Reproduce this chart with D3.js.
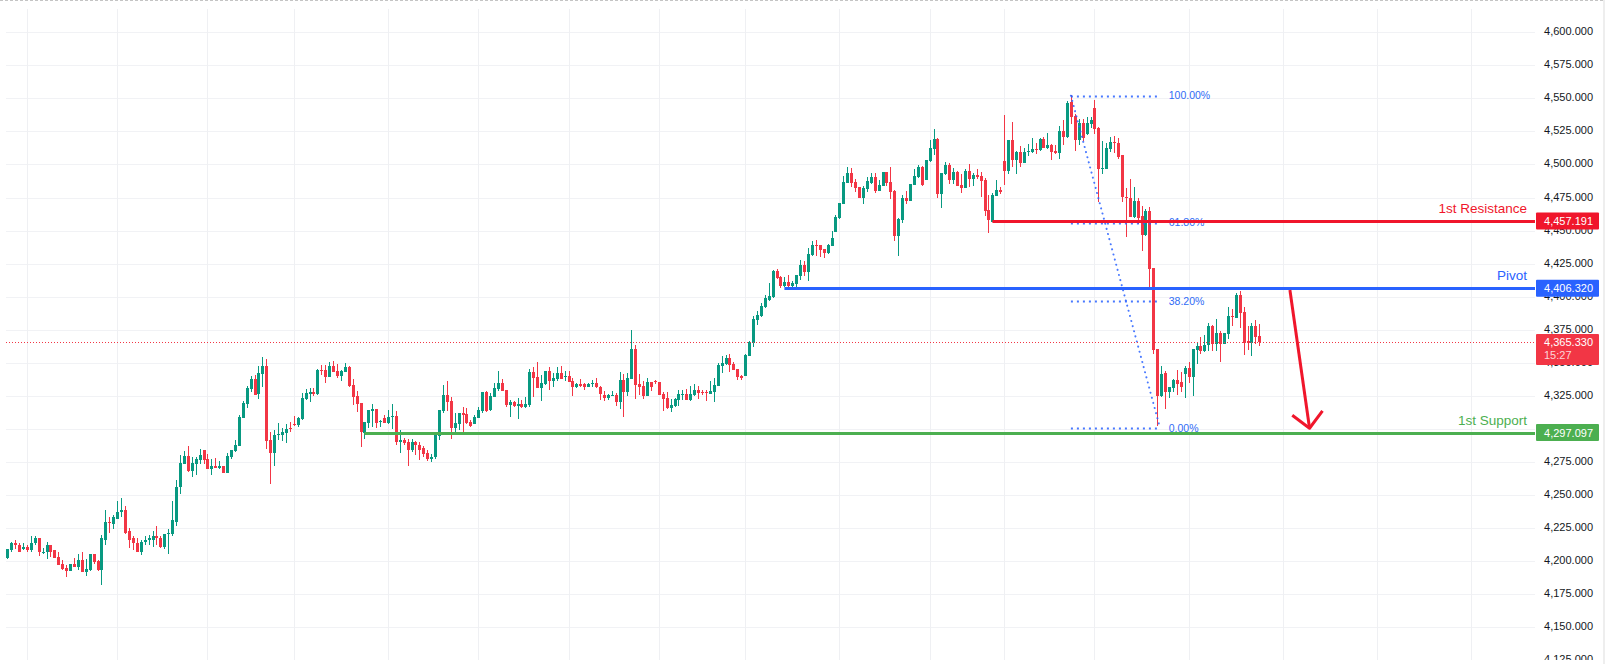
<!DOCTYPE html>
<html>
<head>
<meta charset="utf-8">
<script src="https://cdn.jsdelivr.net/npm/d3@7"></script>
<style>
  html, body { margin: 0; padding: 0; background: #fff; overflow: hidden; }
  svg { display: block; }
  text { font-family: "Liberation Sans", Arial, sans-serif; }
</style>
</head>
<body>
<div id="chart"></div>
<script>
var opens = [
  4202.6,4208.6,4213.2,4212.4,4209.4,4210.9,4207.9,4213.2,4217,4206.4,
  4206.4,4211.7,4207.9,4203.3,4198,4195,4192.7,4198,4195.7,4201,
  4192,4193.5,4205.6,4200.3,4193.5,4216.2,4229.8,4227.6,4232.1,4236.7,
  4238.9,4222.3,4217,4213.9,4207.1,4214.7,4216.2,4216.2,4218.5,4217.7,
  4210.9,4220.7,4220.7,4229.8,4255.6,4273,4279.1,4267.7,4273,4276,
  4283.6,4276.8,4269.2,4271.5,4270.7,4271.5,4266.2,4278.3,4282.9,4286.6,
  4307.9,4318.5,4329.8,4337.4,4326,4341.2,4347.2,4291.2,4281.3,4295,
  4295,4296.5,4300.3,4303.3,4302.6,4307.1,4322.2,4326,4327.5,4326,
  4344.2,4344.2,4338.9,4347.2,4343.4,4339.6,4342.7,4346.5,4332.8,4324.5,
  4319.2,4296.5,4304,4313.1,4314.6,4304.8,4307.8,4304,4308.6,4309.3,
  4289.7,4291.2,4289.7,4283.6,4289.7,4288.1,4285.1,4281.3,4276.8,4278.3,
  4294.2,4313.1,4325.3,4320.7,4300.3,4303.3,4311.6,4310.9,4304.8,4303.3,
  4307.8,4313.1,4327.5,4313.9,4323.7,4329.8,4334.3,4329,4317.7,4320,
  4316.9,4318.4,4316.2,4317.7,4342.7,4338.9,4330.6,4333.6,4343.4,4335.9,
  4337.4,4341.9,4338.9,4339.6,4335.9,4331.3,4333.6,4333.6,4331.3,4333.6,
  4334.3,4331.3,4325.3,4323,4324.5,4325.3,4320,4336.7,4327.5,4337.4,
  4360.2,4333.6,4332.1,4324.5,4335.1,4335.9,4335.1,4326.1,4323,4315.5,
  4316.9,4321.5,4325.3,4326.1,4321.5,4325.3,4329.1,4327.5,4327.5,4326.1,
  4327.5,4332.1,4347.2,4348.8,4353.3,4348.8,4345,4339.7,4339.7,4354.8,
  4364.7,4382.1,4385.2,4392,4397.3,4399.5,4419.2,4414.7,4407.9,4410.9,
  4407.9,4409.4,4415.4,4423.8,4418.5,4431.4,4438.9,4438.9,4435.9,4432.9,
  4438.2,4448.8,4459.4,4470,4485.9,4493.5,4486.7,4482.9,4474.5,4481.3,
  4485.9,4490.4,4479.8,4483.6,4494.2,4486.6,4479.8,4445.7,4457.8,4474.5,
  4472.2,4484.4,4490.4,4498,4488.1,4502.5,4511.6,4519.2,4477.5,4492.7,
  4499.5,4488.1,4494.2,4484.4,4482.1,4495,4488.9,4491.9,4491.2,4488.1,
  4465.4,4456.3,4476,4480.6,4502.5,4495,4518.4,4503.3,4509.4,4501,
  4509.4,4509.4,4511.6,4510.9,4519.2,4512.4,4514.7,4510.1,4508.6,4525.3,
  4520.7,4547.2,4536.6,4518.4,4531.3,4523,4530.6,4542.7,4527.5,4496.5,
  4496.5,4511.6,4516.9,4516.2,4507.1,4475.4,4475,4460.1,4472,4460.9,
  4446.5,4464.7,4421.5,4360.2,4324.6,4342,4327.6,4330.6,4336.7,4335.2,
  4341.2,4345.8,4338.9,4359.4,4362.4,4358.6,4363.2,4377.6,4363.9,4372.3,
  4363.9,4371.5,4385.2,4383.6,4401.1,4388,4366.4,4365.1,4377.7,4370.2
];
var highs = [
  4209.4,4214.7,4216.2,4213.2,4213.2,4212.4,4218.5,4219.2,4217.7,4210.1,
  4214.7,4212.4,4208.6,4207.1,4201,4197.3,4198,4202.6,4205.6,4207.1,
  4201.8,4205.6,4205.6,4201,4220,4238.9,4232.9,4234.4,4245.7,4248,
  4241.2,4225.3,4219.2,4217,4216.2,4219.2,4220,4222.3,4226.8,4219.2,
  4220.7,4223.8,4245,4261.6,4279.8,4282.9,4286.6,4278.3,4278.3,4284.4,
  4283.6,4280.6,4276.8,4277.6,4275.3,4271.5,4281.3,4283.6,4291.2,4310.1,
  4320.7,4332.1,4339.7,4340.4,4347.2,4354.1,4352.5,4297.3,4298.8,4304.1,
  4300.3,4303.3,4304.8,4309.4,4308.6,4326.8,4329.8,4330.6,4330.6,4344.9,
  4348,4348,4350.3,4351,4348.7,4344.2,4349.5,4347.2,4337.4,4328.3,
  4319.2,4304.8,4313.9,4318.4,4314.6,4306.3,4310.1,4313.9,4318.4,4313.1,
  4298.7,4292.7,4291.9,4291.9,4290.4,4289.7,4286.6,4283.6,4280.6,4295.7,
  4313.9,4332.8,4335.9,4323.7,4311.6,4311.6,4316.2,4315.4,4306.3,4310.1,
  4316.2,4327.5,4328.3,4326.8,4334.3,4343.4,4337.4,4329,4321.5,4320.7,
  4323,4321.5,4323.7,4344.9,4346.5,4350.3,4340.4,4343.4,4346.5,4341.9,
  4346.5,4347.2,4343.4,4343.4,4338.1,4334.3,4337.4,4334.3,4334.3,4336.6,
  4338.1,4332.1,4328.3,4326,4328.3,4326.8,4342.7,4341.2,4342,4374.5,
  4363.2,4341.2,4335.9,4338.2,4335.1,4336.7,4335.1,4327.5,4327.5,4322.3,
  4323,4329.1,4329.1,4329.9,4332.1,4333.6,4332.1,4329.1,4329.1,4335.9,
  4338.2,4349.5,4354.8,4355.6,4356.4,4350.3,4345,4340.5,4356.4,4366.2,
  4385.2,4388.9,4395,4401,4410.2,4420,4420.8,4415.4,4414.7,4416.2,
  4411.6,4416.2,4427.6,4426.8,4436.6,4442,4442.7,4438.9,4435.9,4439.7,
  4449.5,4461.7,4470.8,4491.2,4498,4497.3,4488.9,4482.9,4483.6,4490.4,
  4493.5,4493.5,4488.1,4494.2,4494.2,4498,4480.6,4459.4,4476.8,4479.8,
  4485.1,4496.5,4499.5,4498.8,4503.3,4518.4,4526.8,4520,4493.5,4501.8,
  4501,4497.2,4495,4492.7,4496.5,4500.3,4493.5,4496.5,4494.2,4489.7,
  4476.8,4478.3,4488.1,4482.8,4537.4,4518.4,4532.1,4510.1,4513.9,4512.4,
  4515.4,4520,4516.2,4520,4520.7,4523.8,4515.4,4514.7,4529.1,4533.6,
  4548,4552.5,4538.1,4534.4,4534.4,4535.9,4535.9,4548.7,4528.3,4517.7,
  4516.2,4520.7,4521.5,4520,4507.1,4482.2,4489,4482.9,4474.6,4468.6,
  4466.2,4467.8,4421.5,4360.2,4347.3,4343.5,4331.4,4337.4,4344.2,4342.7,
  4347.3,4350.3,4360.2,4364.7,4369.2,4370.8,4379.9,4378.3,4382.9,4373.8,
  4372.3,4392,4390.4,4402.6,4404.1,4392.1,4377.7,4380,4382.3,4379.2
];
var lows = [
  4201.8,4207.1,4209.4,4207.1,4208.6,4207.1,4207.1,4212.4,4204.1,4205.6,
  4201.8,4203.3,4202.6,4197.3,4193.5,4188.2,4192.7,4195.7,4193.5,4192,
  4188.9,4192.7,4198,4192.7,4181.8,4211.7,4221.5,4224.5,4232.1,4233.6,
  4220.7,4210.1,4208.6,4206.4,4204.8,4211.7,4211.7,4210.9,4212.4,4210.1,
  4209.4,4205.6,4218.5,4226.8,4250.3,4273,4267,4263.2,4264.7,4273,
  4273,4269.2,4264.7,4270,4269.2,4266.2,4266.2,4276.8,4282.1,4286.6,
  4307.9,4315.4,4327.6,4325.3,4322.2,4331.3,4284.4,4257.9,4271.5,4291.2,
  4290.4,4288.9,4297.3,4301.8,4301,4306.3,4321.5,4320,4324.5,4325.3,
  4340.4,4334.3,4338.9,4342.7,4338.1,4335.9,4342.7,4331.3,4317.7,4312.4,
  4285.9,4291.9,4300.3,4301,4300.3,4301,4304,4303.3,4299.5,4287.4,
  4281.3,4288.1,4272.2,4282.8,4279.8,4276,4279,4275.3,4274.5,4277.5,
  4291.2,4311.6,4313.1,4291.9,4296.5,4298.7,4297.2,4303.3,4301,4303.3,
  4307.8,4311.6,4312.4,4313.1,4323.7,4328.3,4328.3,4316.2,4308.6,4316.2,
  4307.1,4315.4,4315.4,4316.2,4323.7,4330.6,4320.7,4332.8,4329,4331.3,
  4335.9,4337.4,4335.9,4335.1,4324.5,4330.6,4331.3,4329,4331.3,4331.3,
  4330.6,4321.5,4320.8,4321.5,4324.5,4316.9,4314.7,4308.9,4324.5,4337.4,
  4322.3,4325.3,4322.3,4324.5,4328.3,4333.6,4325.3,4313.2,4314.7,4312.4,
  4316.2,4316.9,4321.5,4321.5,4320.8,4324.5,4322.3,4325.3,4320.8,4326.1,
  4320,4332.1,4342,4348,4342.7,4344.2,4336.7,4336.7,4339.7,4354.8,
  4361.7,4378.3,4384.4,4391.2,4396.5,4398.8,4413.2,4406.4,4407.1,4406.4,
  4406.4,4406.4,4412.4,4415.4,4411.6,4430.6,4430.6,4429.8,4429,4432.1,
  4438.2,4448.8,4458.6,4470,4485.9,4482.9,4479.1,4474.5,4470,4479.1,
  4485.1,4478.3,4479.8,4483.6,4483.6,4473.8,4441.9,4430.6,4455.6,4470,
  4472.2,4484.4,4489.7,4483.6,4488.1,4501.8,4507.1,4474.5,4466.9,4491.9,
  4485.1,4485.1,4483.6,4478.3,4482.1,4482.8,4483.6,4488.9,4475.3,4460.9,
  4448,4456.3,4476,4477.5,4484.4,4492.7,4498,4492.7,4498,4501,
  4506.3,4508.6,4507.8,4510.1,4512.4,4511.6,4503.3,4507.8,4504.1,4514.7,
  4520,4530.6,4510.1,4514.7,4517.7,4522.2,4527.5,4523,4471.7,4492.7,
  4496.5,4509.4,4508.6,4504.1,4471.6,4445.1,4460.1,4459.4,4455.3,4434.4,
  4445.8,4407.1,4356.4,4301.8,4323.8,4314.7,4323,4327.6,4325.3,4327.6,
  4323,4334.4,4324.6,4348.8,4356.4,4357.9,4358.6,4358.6,4358.6,4350.3,
  4363.9,4367.7,4377.6,4383.6,4376.1,4355.8,4359.6,4355,4364.1,4362.6
];
var closes = [
  4209.4,4213.2,4212.4,4207.1,4210.9,4207.9,4213.9,4217.7,4206.4,4207.1,
  4211.7,4207.1,4202.6,4197.3,4194.2,4192.7,4198,4195.7,4201,4192,
  4194.2,4205.6,4199.5,4193.5,4217,4229.8,4229.1,4232.9,4237.4,4238.9,
  4221.5,4216.2,4213.2,4207.1,4214.7,4216.2,4217,4218.5,4217,4210.9,
  4220.7,4221.5,4230.6,4256.3,4273.8,4279.1,4267.7,4273.8,4276.8,4279.8,
  4276,4269.2,4271.5,4270.7,4271.5,4266.2,4279.1,4283.6,4287.4,4308.6,
  4319.2,4330.6,4337.4,4325.3,4341.9,4347.2,4290.4,4281.3,4295,4295.7,
  4297.3,4299.5,4299.5,4302.6,4307.9,4323,4326.8,4327.5,4326,4344.2,
  4343.4,4338.9,4347.2,4342.7,4339.6,4343.4,4346.5,4332.1,4323.7,4318.4,
  4297.2,4304.8,4313.9,4314.6,4304,4305.6,4304,4308.6,4309.3,4289.7,
  4291.2,4288.9,4283.6,4289.7,4287.4,4284.3,4280.6,4276.8,4279,4295,
  4313.9,4325.3,4320,4300.3,4304,4311.6,4310.1,4304,4301.8,4308.6,
  4313.9,4327.5,4313.1,4324.5,4330.6,4334.3,4328.3,4317.7,4320,4316.9,
  4318.4,4316.2,4318.4,4342.7,4338.1,4330.6,4334.3,4343.4,4335.9,4338.1,
  4341.9,4337.4,4339.6,4335.1,4331.3,4333.6,4332.1,4331.3,4333.6,4334.3,
  4331.3,4326.1,4323,4325.3,4325.3,4320,4336.7,4327.5,4338.2,4360.2,
  4332.9,4331.3,4324.5,4335.1,4331.3,4335.1,4325.3,4322.3,4315.5,4317.7,
  4322.3,4326.1,4326.1,4321.5,4326.1,4329.1,4326.8,4326.8,4326.8,4328.3,
  4332.9,4348,4349.5,4353.3,4348,4344.2,4338.9,4338.2,4355.6,4365.5,
  4382.9,4385.9,4392.7,4398.8,4400.3,4419.2,4413.9,4407.9,4410.9,4407.9,
  4410.2,4416.2,4423.8,4418.5,4432.1,4438.9,4438.2,4435.1,4432.9,4438.9,
  4444.2,4460.1,4470.8,4486.7,4493.5,4485.9,4482.1,4474.5,4482.1,4487.4,
  4490.4,4479.8,4484.4,4494.2,4485.9,4479.1,4445.7,4458.6,4474.5,4472.2,
  4485.1,4491.2,4498,4484.4,4503.3,4512.4,4519.2,4477.5,4493.5,4499.5,
  4488.1,4494.2,4483.6,4482.1,4495,4488.9,4491.9,4490.4,4487.4,4464.7,
  4457.8,4476.8,4480.6,4479.1,4495,4518.4,4503.3,4509.4,4501,4509.4,
  4510.1,4511.6,4510.9,4519.2,4512.4,4514.7,4509.4,4508.6,4525.3,4520.7,
  4546.5,4535.9,4518.4,4531.3,4520,4531.3,4533.6,4526.8,4496.5,4497.2,
  4512.4,4516.9,4516.2,4505.6,4475.4,4474.6,4460.1,4472,4459.4,4446.5,
  4464.7,4420.8,4359.4,4324.6,4341.2,4327.6,4331.4,4336.7,4333.6,4331.4,
  4345.8,4338.9,4360.2,4362.4,4358.6,4363.2,4377.6,4363.9,4372.3,4363.9,
  4372.3,4385.2,4384.4,4401.1,4387.4,4365.1,4365.1,4377.7,4369.6,4365.3
];

var priceTicks = d3.range(4125, 4601, 25);
var timeGrid = [5, 28, 51, 73, 97, 120, 143, 166, 188, 212, 235, 254, 277, 301, 325, 349, 373];

var lastPrice = 4365.33;
var countdown = "15:27";
var levelNames = ["1st Resistance", "Pivot", "1st Support"];
var levelPrices = [4457.191, 4406.32, 4297.097];
var levelStarts = [251, 198, 91];
var levelColors = ["#f0162b", "#2962ff", "#4caf50"];

var fibLevels = [1, 0.618, 0.382, 0];
var fibLabels = ["100.00%", "61.80%", "38.20%", "0.00%"];
var fibTop = 4552, fibBottom = 4300.6;
var fibFrom = 271, fibTo = 293.7;

var arrowShaft = [[326.8, 4405], [331.8, 4300.4]];
var arrowHead = [[327.4, 4310.2], [331.8, 4300.4], [335.1, 4313.5]];

var width = 1605, height = 668;
var plot = {left: 6, right: 1535, top: 9, bottom: 660};
var up = "#089981", down = "#f23645", gridColor = "#f1f2f5";

var svg = d3.select("#chart").append("svg")
  .attr("width", width)
  .attr("height", height);

var x = d3.scaleLinear().domain([0, opens.length - 1]).range([7.3, 1259.3]);
var y = d3.scaleLinear().domain([4125, 4600]).range([660.06, 32.3]);

// top and right edges of the screenshot
svg.append("line")
  .attr("x1", 0).attr("x2", width).attr("y1", 0.5).attr("y2", 0.5)
  .attr("stroke", "#c4c4c4").attr("stroke-dasharray", "3,2");
svg.append("rect")
  .attr("x", 1603).attr("y", 0).attr("width", 2).attr("height", 664)
  .attr("fill", "#eeeeee");

// grid
svg.append("g").selectAll("line")
  .data(priceTicks.slice(1))
  .enter().append("line")
  .attr("x1", plot.left).attr("x2", plot.right)
  .attr("y1", d => Math.round(y(d)) + 0.5).attr("y2", d => Math.round(y(d)) + 0.5)
  .attr("stroke", gridColor);
svg.append("g").selectAll("line")
  .data(timeGrid)
  .enter().append("line")
  .attr("x1", d => Math.round(x(d)) + 0.5).attr("x2", d => Math.round(x(d)) + 0.5)
  .attr("y1", plot.top).attr("y2", plot.bottom)
  .attr("stroke", "#eff0f3");

// price axis, clipped at the bottom like the pane
svg.append("clipPath").attr("id", "axisClip").append("rect")
  .attr("x", plot.right).attr("y", 0).attr("width", 70).attr("height", plot.bottom);
var yAxis = svg.append("g")
  .attr("clip-path", "url(#axisClip)")
  .append("g")
  .attr("transform", "translate(1593,-1)")
  .call(d3.axisLeft(y).tickValues(priceTicks).tickFormat(d3.format(",.3f")).tickSize(0).tickPadding(0));
yAxis.select(".domain").remove();
yAxis.selectAll("text")
  .style("font-family", '"Liberation Sans", Arial, sans-serif')
  .style("font-size", "11px")
  .attr("fill", "#131722");

// candles
var idx = d3.range(opens.length);
var candle = svg.append("g").attr("shape-rendering", "crispEdges")
  .selectAll("g").data(idx).enter().append("g")
  .attr("fill", d => closes[d] >= opens[d] ? up : down);
candle.append("rect")
  .attr("x", d => Math.round(x(d)))
  .attr("width", 1)
  .attr("y", d => Math.round(y(highs[d])))
  .attr("height", d => Math.max(1, Math.round(y(lows[d])) - Math.round(y(highs[d]))));
candle.append("rect")
  .attr("x", d => Math.round(x(d)) - 1)
  .attr("width", 3)
  .attr("y", d => Math.round(y(Math.max(opens[d], closes[d]))))
  .attr("height", d => Math.max(1, Math.round(y(Math.min(opens[d], closes[d]))) - Math.round(y(Math.max(opens[d], closes[d])))));

// fib retracement
var fibPrice = l => fibBottom + (fibTop - fibBottom) * l;
var fib = svg.append("g");
fib.selectAll("line.level")
  .data(fibLevels)
  .enter().append("line")
  .attr("class", "level")
  .attr("x1", x(fibFrom)).attr("x2", x(fibTo))
  .attr("y1", d => Math.round(y(fibPrice(d))) + 0.5).attr("y2", d => Math.round(y(fibPrice(d))) + 0.5)
  .attr("stroke", "#2962ff").attr("stroke-opacity", 0.85)
  .attr("stroke-width", 2).attr("stroke-dasharray", "2,4");
fib.append("line")
  .attr("x1", x(fibFrom)).attr("y1", y(fibTop))
  .attr("x2", x(fibTo)).attr("y2", y(fibBottom))
  .attr("stroke", "#2962ff").attr("stroke-opacity", 0.85)
  .attr("stroke-width", 2).attr("stroke-linecap", "round").attr("stroke-dasharray", "0.1,5.2");
fib.selectAll("text")
  .data(fibLevels)
  .enter().append("text")
  .attr("x", x(fibTo) + 8.7)
  .attr("y", d => y(fibPrice(d)))
  .attr("dy", "0.35em")
  .attr("font-size", "10.5px")
  .attr("fill", "#2f6bf5")
  .text((d, i) => fibLabels[i]);

// last price line
svg.append("line")
  .attr("x1", plot.left).attr("x2", plot.right)
  .attr("y1", Math.round(y(lastPrice)) + 0.5).attr("y2", Math.round(y(lastPrice)) + 0.5)
  .attr("stroke", down).attr("stroke-dasharray", "1,2");

// horizontal levels and their names
levelPrices.forEach(function(p, i) {
  svg.append("line")
    .attr("x1", x(levelStarts[i])).attr("x2", plot.right)
    .attr("y1", Math.round(y(p)) + 0.5).attr("y2", Math.round(y(p)) + 0.5)
    .attr("stroke", levelColors[i]).attr("stroke-width", 3);
  svg.append("text")
    .attr("x", 1527).attr("y", y(p) - 8)
    .attr("text-anchor", "end")
    .attr("font-size", "13.5px")
    .attr("fill", levelColors[i])
    .text(levelNames[i]);
});

// arrow
var line = d3.line().x(d => x(d[0])).y(d => y(d[1]));
svg.selectAll("path.arrow")
  .data([arrowShaft, arrowHead])
  .enter().append("path")
  .attr("class", "arrow")
  .attr("d", line)
  .attr("fill", "none")
  .attr("stroke", "#f0162b")
  .attr("stroke-width", 3)
  .attr("stroke-linejoin", "round");

// price labels on the axis
var boxes = levelPrices.map((p, i) => ({price: p, color: levelColors[i], h: 17, extra: null}))
  .concat([{price: lastPrice, color: down, h: 31, extra: countdown}]);
boxes.forEach(function(b) {
  var cy = y(b.price);
  var top = b.extra ? cy - 8.4 : cy - 8.5;
  svg.append("rect")
    .attr("x", plot.right + 1).attr("y", top)
    .attr("width", 63).attr("height", b.h)
    .attr("rx", 1)
    .attr("fill", b.color);
  svg.append("text")
    .attr("x", 1593).attr("y", cy).attr("dy", "0.36em")
    .attr("text-anchor", "end")
    .attr("font-size", "11px").attr("fill", "#fff")
    .text(d3.format(",.3f")(b.price));
  if (b.extra) {
    svg.append("text")
      .attr("x", 1544).attr("y", cy + 13).attr("dy", "0.36em")
      .attr("font-size", "11px").attr("fill", "#fff").attr("fill-opacity", 0.8)
      .text(b.extra);
  }
});
</script>
</body>
</html>
